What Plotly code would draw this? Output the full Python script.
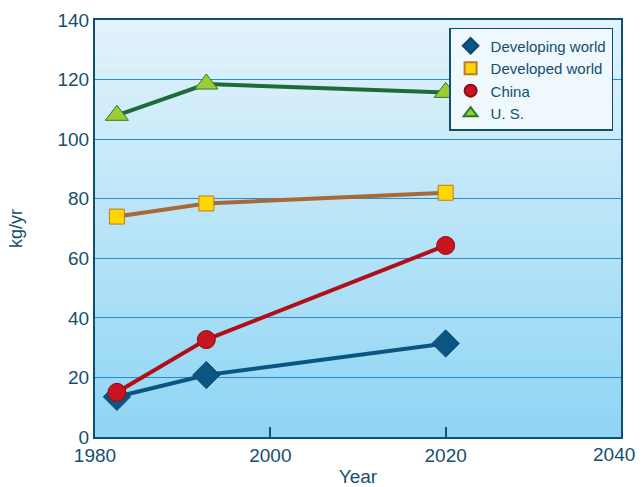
import plotly.graph_objects as go

years = [1982.5, 1992.7, 2020]
developing = [13.5, 20.8, 31.4]
developed = [74.0, 78.4, 82.0]
china = [15.0, 32.7, 64.3]
us = [108.0, 118.5, 115.7]

x_ticks = [1980, 2000, 2020, 2040]
y_ticks = [0, 20, 40, 60, 80, 100, 120, 140]

TXT = "#154f6e"
AX = "#0f4f74"

fig = go.Figure()

series = [
    ("Developing world", developing, "#0a5582", "diamond", "#0a5582", "#0a4a70", 21),
    ("Developed world", developed, "#a8683a", "square", "#ffd700", "#c0782e", 15),
    ("China", china, "#b00f1a", "circle", "#c8141e", "#8e0c14", 18),
    ("U. S.", us, "#1d6b38", "triangle-up", "#9ccc34", "#2a7a2a", 20),
]
for name, vals, lc, sym, fc, mlc, ms in series:
    fig.add_trace(go.Scatter(
        x=years, y=vals, name=name, mode="lines", showlegend=False,
        legendgroup=name, line=dict(color=lc, width=4), hoverinfo="skip",
    ))
    fig.add_trace(go.Scatter(
        x=years, y=vals, name=name, mode="markers", legendgroup=name,
        marker=dict(symbol=sym, size=ms, color=fc, line=dict(color=mlc, width=1)),
    ))

# vertical gradient background
shapes = []
n = 60
top = (0xe2, 0xf3, 0xfb)
bot = (0x8f, 0xd5, 0xf4)
for i in range(n):
    t = i / (n - 1)
    c = tuple(round(bot[k] + (top[k] - bot[k]) * t) for k in range(3))
    shapes.append(dict(type="rect", xref="x domain", yref="y domain",
                       x0=0, x1=1, y0=i / n, y1=(i + 1) / n + 0.002,
                       fillcolor="rgb(%d,%d,%d)" % c, line=dict(width=0), layer="below"))

# last x tick label sits shifted left so it stays inside the page
annotations = [dict(
    x=x_ticks[-1], xref="x", y=0, yref="y domain", yanchor="top", yshift=-5,
    xanchor="right", xshift=16, text=str(x_ticks[-1]), showarrow=False,
    font=dict(size=19, color=TXT),
)]

fig.update_layout(
    width=642, height=487,
    margin=dict(l=95, r=21, t=20, b=50),
    paper_bgcolor="white",
    plot_bgcolor="#bfe6f8",
    shapes=shapes,
    annotations=annotations,
    font=dict(family="Liberation Sans, Arial, sans-serif", color=TXT, size=18),
    showlegend=True,
    legend=dict(
        x=0.985, y=0.981, xanchor="right", yanchor="top",
        bgcolor="#eef8fd", bordercolor=AX, borderwidth=1.5,
        font=dict(size=15, color=TXT),
        tracegroupgap=0, itemsizing="constant", itemwidth=30,
    ),
    xaxis=dict(
        range=[1980, 2040], tickvals=x_ticks[:-1], ticks="inside", ticklen=10,
        tickcolor=AX, tickwidth=1.5, showgrid=False, zeroline=False,
        showline=True, linecolor=AX, linewidth=2, mirror=True,
        title=dict(text="Year", font=dict(size=19, color=TXT), standoff=10),
        tickfont=dict(size=19, color=TXT), automargin=False,
    ),
    yaxis=dict(
        range=[0, 140], tickvals=y_ticks, ticks="", showgrid=True,
        gridcolor="#2a8ccc", gridwidth=1.2, zeroline=False,
        showline=True, linecolor=AX, linewidth=2, mirror=True,
        title=dict(text="kg/yr", font=dict(size=18, color=TXT), standoff=30),
        tickfont=dict(size=19, color=TXT), automargin=False,
    ),
)

fig.write_html("out.html")
